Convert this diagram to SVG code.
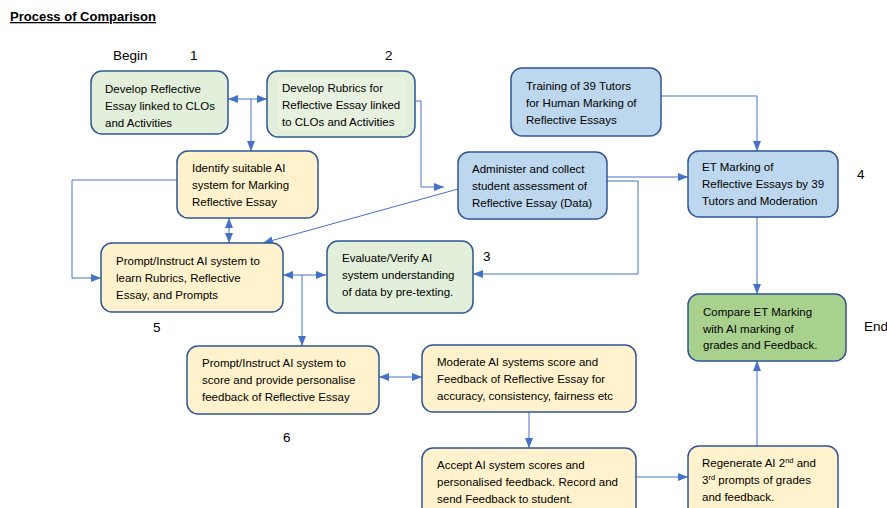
<svg xmlns="http://www.w3.org/2000/svg" width="887" height="508" viewBox="0 0 887 508">
<style>
text{font-family:"Liberation Sans",Arial,sans-serif;fill:#000}
.t{font-size:11.5px}
.lbl{font-size:13.5px}
.title{font-size:13px;font-weight:bold;text-decoration:underline}
.box{stroke:#2f5597;stroke-width:1.5}
.g{fill:#e2efda}
.dg{fill:#a9d18e}
.b{fill:#bdd7ee}
.o{fill:#fff2cc}
.c{fill:none;stroke:#4472c4;stroke-width:1}
</style>
<defs>
<marker id="ah" markerUnits="userSpaceOnUse" markerWidth="10" markerHeight="10" viewBox="0 0 10 10" refX="10" refY="5" orient="auto-start-reverse">
<path d="M0,1 L10,5 L0,9 Z" fill="#4472c4"/>
</marker>
</defs>
<rect width="887" height="508" fill="#fff"/>
<text class="title" x="10" y="21">Process of Comparison</text>
<text class="lbl" x="113" y="60">Begin</text>
<text class="lbl" x="190" y="60">1</text>
<text class="lbl" x="385" y="60">2</text>
<text class="lbl" x="483" y="261">3</text>
<text class="lbl" x="857" y="179">4</text>
<text class="lbl" x="153" y="332">5</text>
<text class="lbl" x="283" y="442">6</text>
<text class="lbl" x="864" y="331">End</text>

<g id="connectors">
<line class="c" x1="228" y1="99" x2="267" y2="99" marker-start="url(#ah)" marker-end="url(#ah)"/>
<polyline class="c" points="251,99 251,151" marker-end="url(#ah)"/>
<polyline class="c" points="415,101 421,101 421,187 444,187" marker-end="url(#ah)"/>
<polyline class="c" points="661,96 757,96 757,151" marker-end="url(#ah)"/>
<line class="c" x1="607" y1="177" x2="688" y2="177" marker-end="url(#ah)"/>
<polyline class="c" points="607,181 638,181 638,274 473,274" marker-end="url(#ah)"/>
<line class="c" x1="458" y1="189" x2="263" y2="243" marker-end="url(#ah)"/>
<polyline class="c" points="177,180 72,180 72,278 101,278" marker-end="url(#ah)"/>
<line class="c" x1="229" y1="218" x2="229" y2="243" marker-start="url(#ah)" marker-end="url(#ah)"/>
<line class="c" x1="283" y1="275" x2="326" y2="275" marker-start="url(#ah)" marker-end="url(#ah)"/>
<polyline class="c" points="302,275 302,346" marker-end="url(#ah)"/>
<line class="c" x1="379" y1="377" x2="422" y2="377" marker-start="url(#ah)" marker-end="url(#ah)"/>
<line class="c" x1="529" y1="412" x2="529" y2="448" marker-end="url(#ah)"/>
<line class="c" x1="636" y1="477" x2="688" y2="477" marker-end="url(#ah)"/>
<line class="c" x1="757" y1="446" x2="757" y2="361" marker-end="url(#ah)"/>
<line class="c" x1="757" y1="217" x2="757" y2="294" marker-end="url(#ah)"/>
</g>

<g id="n1">
<rect class="box g" x="91" y="71" width="137" height="63" rx="11"/>
<text class="t" x="105" y="93">Develop Reflective</text>
<text class="t" x="105" y="110">Essay linked to CLOs</text>
<text class="t" x="105" y="127">and Activities</text>
</g>
<g id="n2">
<rect class="box g" x="267" y="71" width="148" height="66" rx="11"/>
<rect x="280" y="80" width="124" height="48" fill="#e6f1df" stroke="#f4f8f1" stroke-width="0.8"/>
<text class="t" x="282" y="92">Develop Rubrics for</text>
<text class="t" x="282" y="109">Reflective Essay linked</text>
<text class="t" x="282" y="126">to CLOs and Activities</text>
</g>
<g id="n3">
<rect class="box b" x="511" y="68" width="150" height="68" rx="11"/>
<text class="t" x="526" y="90">Training of 39 Tutors</text>
<text class="t" x="526" y="107">for Human Marking of</text>
<text class="t" x="526" y="124">Reflective Essays</text>
</g>
<g id="n4">
<rect class="box b" x="458" y="152" width="149" height="67" rx="11"/>
<text class="t" x="472" y="173">Administer and collect</text>
<text class="t" x="472" y="190">student assessment of</text>
<text class="t" x="472" y="207">Reflective Essay (Data)</text>
</g>
<g id="n5">
<rect class="box b" x="688" y="151" width="150" height="66" rx="11"/>
<text class="t" x="702" y="171">ET Marking of</text>
<text class="t" x="702" y="188">Reflective Essays by 39</text>
<text class="t" x="702" y="205">Tutors and Moderation</text>
</g>
<g id="n6">
<rect class="box o" x="177" y="151" width="141" height="67" rx="11"/>
<text class="t" x="192" y="172">Identify suitable AI</text>
<text class="t" x="192" y="189">system for Marking</text>
<text class="t" x="192" y="206">Reflective Essay</text>
</g>
<g id="n7">
<rect class="box o" x="101" y="243" width="182" height="69" rx="11"/>
<text class="t" x="116" y="265">Prompt/Instruct AI system to</text>
<text class="t" x="116" y="282">learn Rubrics, Reflective</text>
<text class="t" x="116" y="299">Essay, and Prompts</text>
</g>
<g id="n8">
<rect class="box g" x="327" y="241" width="146" height="72" rx="11"/>
<text class="t" x="342" y="262">Evaluate/Verify AI</text>
<text class="t" x="342" y="279">system understanding</text>
<text class="t" x="342" y="296">of data by pre-texting.</text>
</g>
<g id="n9">
<rect class="box o" x="187" y="346" width="192" height="68" rx="11"/>
<text class="t" x="202" y="367">Prompt/Instruct AI system to</text>
<text class="t" x="202" y="384">score and provide personalise</text>
<text class="t" x="202" y="401">feedback of Reflective Essay</text>
</g>
<g id="n10">
<rect class="box o" x="422" y="345" width="214" height="67" rx="11"/>
<text class="t" x="437" y="366">Moderate AI systems score and</text>
<text class="t" x="437" y="383">Feedback of Reflective Essay for</text>
<text class="t" x="437" y="400">accuracy, consistency, fairness etc</text>
</g>
<g id="n11">
<rect class="box o" x="422" y="448" width="214" height="70" rx="11"/>
<text class="t" x="437" y="469">Accept AI system scores and</text>
<text class="t" x="437" y="486">personalised feedback. Record and</text>
<text class="t" x="437" y="503">send Feedback to student.</text>
</g>
<g id="n12">
<rect class="box o" x="688" y="446" width="150" height="72" rx="11"/>
<text class="t" x="702" y="467">Regenerate AI 2<tspan font-size="7.5" dy="-4">nd</tspan><tspan dy="4"> and</tspan></text>
<text class="t" x="702" y="484">3<tspan font-size="7.5" dy="-4">rd</tspan><tspan dy="4"> prompts of grades</tspan></text>
<text class="t" x="702" y="501">and feedback.</text>
</g>
<g id="n13">
<rect class="box dg" x="688" y="294" width="158" height="67" rx="11"/>
<text class="t" x="703" y="316">Compare ET Marking</text>
<text class="t" x="703" y="333">with AI marking of</text>
<text class="t" x="703" y="349">grades and Feedback.</text>
</g>
</svg>
